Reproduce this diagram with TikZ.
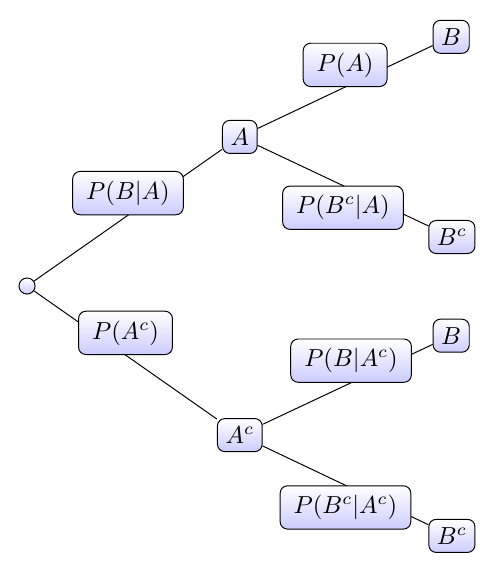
\documentclass[tikz,border=0pt]{standalone}
\begin{document}
\begin{tikzpicture}[
    state/.style={draw, rounded corners=3pt, top color=white, bottom color=blue!20, inner sep=3.3pt},
    prob/.style={draw, rounded corners=3pt, top color=white, bottom color=blue!20, inner xsep=5.5pt, inner ysep=3.8pt},
    start/.style={draw, circle, top color=white, bottom color=blue!20, minimum size=0.23cm, inner sep=0pt}
  ]
    \useasboundingbox (-0.386,-4.086) rectangle (6.786,4.086);

    % Root and first level
    \node[start] (root) at (0,0) {};
    \node[state] (a) at (3.04,2.13) {$A$};
    \node[state] (ac) at (3.04,-2.13) {$A^c$};

    % Leaves
    \node[state] (b1) at (6.06,3.56) {$B$};
    \node[state] (bc1) at (6.07,0.70) {$B^c$};
    \node[state] (b2) at (6.06,-0.71) {$B$};
    \node[state] (bc2) at (6.07,-3.57) {$B^c$};

    % Branches with probabilities
    \draw (root) -- node[prob, above] (pba) {$P(B|A)$} (a);
    \draw (root) -- node[prob, above] (pac) {$P(A^c)$} (ac);
    \draw (a) -- node[prob, above] (pa) {$P(A)$} (b1);
    \draw (a) -- node[prob, below] (pbca) {$P(B^c|A)$} (bc1);
    \draw (ac) -- node[prob, above, pos=0.52] (pbac) {$P(B|A^c)$} (b2);
    \draw (ac) -- node[prob, below] (pbcac) {$P(B^c|A^c)$} (bc2);
\end{tikzpicture}
\end{document}
